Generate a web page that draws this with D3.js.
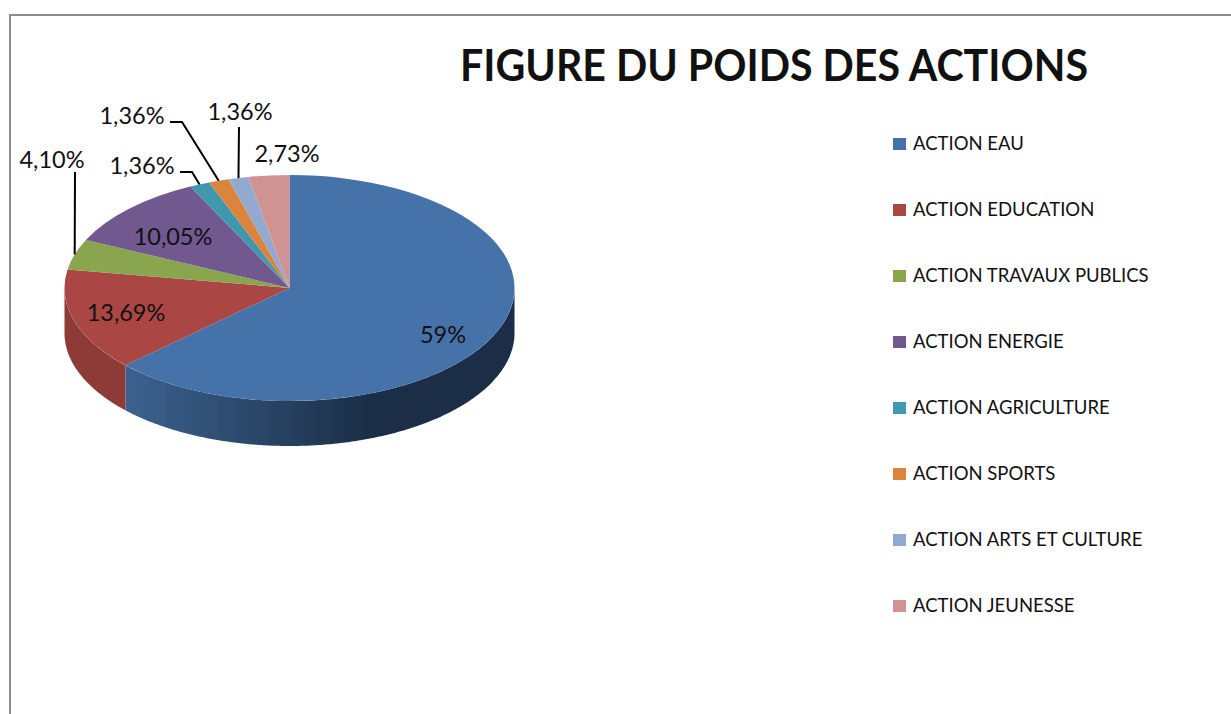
<!DOCTYPE html>
<html>
<head>
<meta charset="utf-8">
<script src="https://cdn.jsdelivr.net/npm/d3@7"></script>
<style>
  html, body { margin: 0; padding: 0; background: #fff; overflow: hidden; }
  text { font-family: Lato, "Open Sans", sans-serif; fill: #111; }
</style>
</head>
<body>
<div id="chart"></div>
<script>
// chart values
const categories = ['ACTION EAU', 'ACTION EDUCATION', 'ACTION TRAVAUX PUBLICS', 'ACTION ENERGIE',
    'ACTION AGRICULTURE', 'ACTION SPORTS', 'ACTION ARTS ET CULTURE', 'ACTION JEUNESSE']
const values = [59, 13.69, 4.10, 10.05, 1.36, 1.36, 1.36, 2.73]
const valueLabels = ['59%', '13,69%', '4,10%', '10,05%', '1,36%', '1,36%', '1,36%', '2,73%']
const colors = ['#4472a8', '#aa4644', '#89a54e', '#71588f', '#4198af', '#db843d', '#93a9cf', '#d19392']
const title = 'FIGURE DU POIDS DES ACTIONS'

const width = 1231, height = 714
let center = {x: 289.5, y: 288}, rx = 225, ry = 113, depth = 45

// where each value label sits, and the elbow of its leader line if it has one
let labelPos = [[443, 335], [126, 313], [52, 160], [173, 237], [142, 166], [132, 116], [240, 112], [287, 154]]
let elbows = {2: [[75, 172]], 4: [[180, 172], [192, 172]], 5: [[170, 122], [182, 122]], 6: [[239, 127]]}

let svg = d3.select('#chart').append('svg').attr('width', width).attr('height', height)

let defs = svg.append('defs')
let sideGrad = defs.append('linearGradient').attr('id', 'sideBlue')
    .attr('gradientUnits', 'userSpaceOnUse')
    .attr('x1', 126).attr('x2', 370).attr('y1', 0).attr('y2', 0)
sideGrad.append('stop').attr('offset', 0).attr('stop-color', '#3c628f')
sideGrad.append('stop').attr('offset', 1).attr('stop-color', '#1b2e46')
defs.append('filter').attr('id', 'soft')
    .append('feGaussianBlur').attr('stdDeviation', 0.5)

// frame, cut by the page on the right and bottom
svg.append('path')
    .attr('d', d3.line()([[10, height], [10, 15], [width, 15]]))
    .attr('fill', 'none').attr('stroke', '#8c8c8c').attr('stroke-width', 2)

let pie = d3.pie().sort(null).value(d => d)
let arcs = pie(values)

let pointAt = (a, r, dy = 0) => [center.x + rx * r * Math.sin(a), center.y - ry * r * Math.cos(a) + dy]

let pieG = svg.append('g').attr('filter', 'url(#soft)')

// side wall, only the part of each slice on the front half of the ellipse
let wallColors = {0: 'url(#sideBlue)', 1: '#8e3b39'}
arcs.forEach((d, i) => {
    let a0 = Math.max(d.startAngle, Math.PI / 2), a1 = Math.min(d.endAngle, Math.PI * 1.5)
    if (a1 <= a0) return
    let steps = d3.range(a0, a1, 0.01).concat([a1])
    let top = steps.map(a => pointAt(a, 1))
    let bottom = steps.map(a => pointAt(a, 1, depth)).reverse()
    pieG.append('path')
        .attr('d', d3.line()(top.concat(bottom)) + 'Z')
        .attr('fill', wallColors[i] || colors[i])
})

// top face: a normal d3 arc squashed into an ellipse
let arc = d3.arc().innerRadius(0).outerRadius(rx)
pieG.append('g')
    .attr('transform', `translate(${center.x} ${center.y}) scale(1 ${ry / rx})`)
    .selectAll('path')
    .data(arcs)
    .enter()
    .append('path')
    .attr('d', arc)
    .attr('fill', (d, i) => colors[i])

// leader lines
arcs.forEach((d, i) => {
    if (!elbows[i]) return
    let end = pointAt((d.startAngle + d.endAngle) / 2, 1)
    svg.append('path')
        .attr('d', d3.line()(elbows[i].concat([end])))
        .attr('fill', 'none').attr('stroke', '#000').attr('stroke-width', 2)
})

// value labels
svg.append('g').selectAll('text')
    .data(valueLabels)
    .enter()
    .append('text')
    .attr('x', (d, i) => labelPos[i][0])
    .attr('y', (d, i) => labelPos[i][1])
    .attr('dy', '0.35em')
    .attr('text-anchor', 'middle')
    .attr('font-size', 23.5)
    .text(d => d)

// title
svg.append('text')
    .attr('x', 460).attr('y', 81)
    .attr('font-size', 44)
    .attr('font-weight', 700)
    .attr('textLength', 628)
    .attr('lengthAdjust', 'spacingAndGlyphs')
    .text(title)

// legend
let scLegend = d3.scalePoint().domain(categories).range([144, 606])
let legend = svg.append('g').selectAll('g')
    .data(categories)
    .enter()
    .append('g')
    .attr('transform', d => `translate(893 ${scLegend(d)})`)
legend.append('rect')
    .attr('y', -6).attr('width', 13).attr('height', 12)
    .attr('fill', (d, i) => colors[i])
legend.append('text')
    .attr('x', 20)
    .attr('dy', '0.35em')
    .attr('font-size', 18.5)
    .text(d => d)
</script>
</body>
</html>
